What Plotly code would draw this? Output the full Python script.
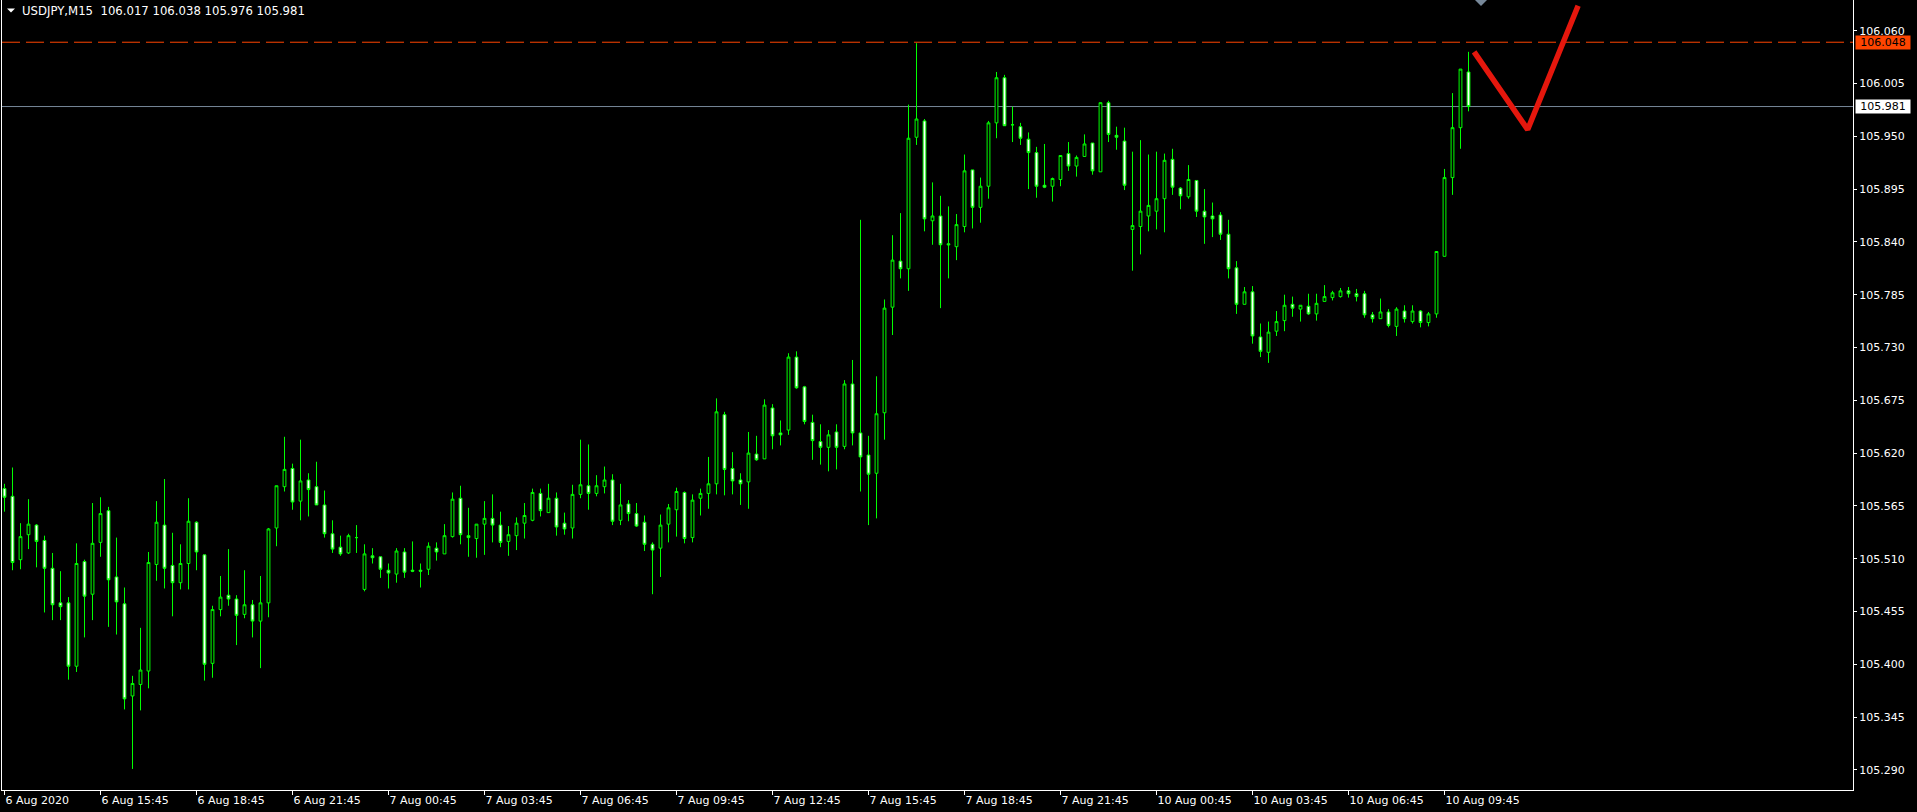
import plotly.graph_objects as go

# ---------------- data (USDJPY, M15) ----------------
symbol_title = "USDJPY,M15&nbsp; 106.017 106.038 105.976 105.981"

open_ = [
    105.583, 105.575, 105.509, 105.535, 105.545, 105.529, 105.500, 105.464, 105.464, 105.398,
    105.507, 105.473, 105.527, 105.560, 105.491, 105.463, 105.367, 105.379, 105.393, 105.504,
    105.545, 105.503, 105.485, 105.505, 105.548, 105.514, 105.401, 105.457, 105.472, 105.468,
    105.452, 105.462, 105.445, 105.464, 105.542, 105.585, 105.604, 105.570, 105.592, 105.585,
    105.566, 105.536, 105.522, 105.516, 105.532, 105.478, 105.513, 105.512, 105.498, 105.494,
    105.517, 105.498, 105.498, 105.499, 105.521, 105.515, 105.533, 105.573, 105.534, 105.531,
    105.546, 105.552, 105.545, 105.528, 105.534, 105.547, 105.550, 105.578, 105.558, 105.573,
    105.547, 105.542, 105.577, 105.586, 105.578, 105.585, 105.592, 105.550, 105.567, 105.557,
    105.548, 105.525, 105.521, 105.546, 105.561, 105.579, 105.532, 105.573, 105.578, 105.588,
    105.660, 105.604, 105.592, 105.590, 105.619, 105.614, 105.667, 105.641, 105.644, 105.720,
    105.689, 105.652, 105.632, 105.626, 105.642, 105.627, 105.692, 105.641, 105.618, 105.599,
    105.662, 105.772, 105.820, 105.812, 105.949, 105.966, 105.862, 105.867, 105.838, 105.835,
    105.856, 105.915, 105.876, 105.898, 105.964, 106.011, 105.962, 105.960, 105.947, 105.933,
    105.899, 105.898, 105.905, 105.932, 105.919, 105.929, 105.943, 105.913, 105.985, 105.951,
    105.945, 105.853, 105.856, 105.867, 105.872, 105.885, 105.926, 105.896, 105.887, 105.904,
    105.872, 105.867, 105.868, 105.848, 105.813, 105.775, 105.788, 105.741, 105.725, 105.747,
    105.758, 105.775, 105.770, 105.773, 105.765, 105.778, 105.782, 105.783, 105.789, 105.786,
    105.786, 105.764, 105.760, 105.767, 105.752, 105.768, 105.757, 105.768, 105.756, 105.765,
    105.825, 105.907, 105.959, 106.017,
]
high = [
    105.588, 105.605, 105.547, 105.572, 105.546, 105.534, 105.516, 105.497, 105.470, 105.526,
    105.509, 105.568, 105.574, 105.564, 105.532, 105.480, 105.388, 105.438, 105.517, 105.570,
    105.593, 105.537, 105.525, 105.573, 105.549, 105.514, 105.461, 105.492, 105.520, 105.472,
    105.498, 105.467, 105.492, 105.542, 105.586, 105.637, 105.609, 105.634, 105.599, 105.611,
    105.581, 105.550, 105.534, 105.536, 105.545, 105.525, 105.521, 105.512, 105.505, 105.521,
    105.521, 105.528, 105.505, 105.527, 105.527, 105.546, 105.579, 105.586, 105.563, 105.546,
    105.570, 105.577, 105.559, 105.544, 105.553, 105.568, 105.583, 105.583, 105.588, 105.579,
    105.558, 105.587, 105.634, 105.629, 105.597, 105.606, 105.598, 105.588, 105.571, 105.568,
    105.555, 105.527, 105.556, 105.567, 105.584, 105.580, 105.577, 105.583, 105.616, 105.677,
    105.663, 105.621, 105.599, 105.642, 105.638, 105.676, 105.671, 105.654, 105.724, 105.726,
    105.690, 105.660, 105.650, 105.644, 105.650, 105.696, 105.717, 105.863, 105.638, 105.700,
    105.780, 105.847, 105.870, 105.983, 106.047, 105.968, 105.902, 105.888, 105.877, 105.869,
    105.931, 105.915, 105.907, 105.966, 106.017, 106.014, 105.981, 105.964, 105.954, 105.939,
    105.942, 105.907, 105.930, 105.944, 105.930, 105.952, 105.943, 105.985, 105.987, 105.960,
    105.959, 105.934, 105.946, 105.931, 105.934, 105.932, 105.937, 105.897, 105.920, 105.904,
    105.895, 105.881, 105.871, 105.863, 105.820, 105.793, 105.794, 105.755, 105.757, 105.768,
    105.785, 105.783, 105.774, 105.786, 105.786, 105.795, 105.789, 105.792, 105.793, 105.791,
    105.789, 105.767, 105.781, 105.770, 105.772, 105.774, 105.774, 105.769, 105.767, 105.830,
    105.916, 105.995, 106.020, 106.038,
]
low = [
    105.559, 105.498, 105.499, 105.520, 105.501, 105.454, 105.446, 105.446, 105.384, 105.392,
    105.428, 105.446, 105.512, 105.439, 105.431, 105.353, 105.291, 105.352, 105.375, 105.487,
    105.479, 105.450, 105.478, 105.478, 105.498, 105.383, 105.386, 105.450, 105.461, 105.420,
    105.448, 105.428, 105.396, 105.449, 105.523, 105.580, 105.561, 105.550, 105.554, 105.566,
    105.532, 105.516, 105.513, 105.515, 105.516, 105.476, 105.505, 105.490, 105.479, 105.485,
    105.490, 105.496, 105.480, 105.493, 105.508, 105.515, 105.532, 105.525, 105.512, 105.511,
    105.514, 105.527, 105.522, 105.513, 105.519, 105.531, 105.549, 105.554, 105.558, 105.534,
    105.535, 105.531, 105.573, 105.561, 105.575, 105.578, 105.545, 105.545, 105.549, 105.543,
    105.518, 105.473, 105.491, 105.527, 105.533, 105.526, 105.527, 105.555, 105.562, 105.577,
    105.576, 105.577, 105.566, 105.562, 105.612, 105.614, 105.624, 105.628, 105.639, 105.687,
    105.650, 105.613, 105.608, 105.601, 105.603, 105.624, 105.628, 105.580, 105.545, 105.552,
    105.634, 105.743, 105.802, 105.789, 105.941, 105.851, 105.837, 105.771, 105.802, 105.821,
    105.850, 105.854, 105.860, 105.885, 105.948, 105.961, 105.944, 105.941, 105.895, 105.886,
    105.896, 105.882, 105.898, 105.914, 105.908, 105.929, 105.910, 105.913, 105.944, 105.936,
    105.894, 105.810, 105.827, 105.851, 105.853, 105.850, 105.889, 105.874, 105.885, 105.866,
    105.838, 105.845, 105.842, 105.802, 105.765, 105.775, 105.734, 105.720, 105.714, 105.742,
    105.747, 105.762, 105.757, 105.764, 105.758, 105.778, 105.779, 105.782, 105.782, 105.778,
    105.761, 105.756, 105.760, 105.751, 105.742, 105.756, 105.755, 105.751, 105.752, 105.761,
    105.825, 105.889, 105.937, 105.976,
]
close = [
    105.574, 105.506, 105.533, 105.546, 105.528, 105.500, 105.462, 105.460, 105.398, 105.505,
    105.471, 105.526, 105.557, 105.488, 105.465, 105.364, 105.380, 105.394, 105.506, 105.548,
    105.500, 105.485, 105.505, 105.549, 105.517, 105.400, 105.457, 105.470, 105.468, 105.451,
    105.462, 105.445, 105.464, 105.541, 105.586, 105.603, 105.569, 105.591, 105.582, 105.566,
    105.536, 105.520, 105.515, 105.534, 105.532, 105.515, 105.511, 105.499, 105.495, 105.518,
    105.496, 105.497, 105.497, 105.523, 105.517, 105.534, 105.572, 105.535, 105.532, 105.546,
    105.552, 105.545, 105.527, 105.535, 105.547, 105.555, 105.579, 105.560, 105.573, 105.543,
    105.541, 105.577, 105.587, 105.578, 105.586, 105.592, 105.549, 105.566, 105.557, 105.544,
    105.525, 105.519, 105.545, 105.563, 105.580, 105.531, 105.571, 105.578, 105.588, 105.663,
    105.603, 105.591, 105.588, 105.620, 105.613, 105.670, 105.638, 105.639, 105.720, 105.688,
    105.653, 105.633, 105.626, 105.639, 105.626, 105.692, 105.641, 105.616, 105.598, 105.661,
    105.771, 105.821, 105.812, 105.948, 105.968, 105.864, 105.867, 105.837, 105.837, 105.858,
    105.914, 105.876, 105.898, 105.964, 106.011, 105.961, 105.962, 105.948, 105.933, 105.898,
    105.897, 105.906, 105.930, 105.919, 105.928, 105.942, 105.914, 105.985, 105.952, 105.949,
    105.899, 105.857, 105.872, 105.878, 105.885, 105.925, 105.897, 105.888, 105.905, 105.872,
    105.866, 105.864, 105.848, 105.812, 105.775, 105.788, 105.742, 105.726, 105.746, 105.757,
    105.774, 105.771, 105.774, 105.765, 105.776, 105.783, 105.787, 105.789, 105.786, 105.783,
    105.764, 105.760, 105.767, 105.753, 105.770, 105.760, 105.768, 105.756, 105.765, 105.830,
    105.907, 105.959, 106.020, 105.981,
]
bar_index = list(range(len(close)))

time_tick_index = [0, 12, 24, 36, 48, 60, 72, 84, 96, 108, 120, 132, 144, 156, 168, 180]
time_tick_labels = [
    "6 Aug 2020", "6 Aug 15:45", "6 Aug 18:45", "6 Aug 21:45", "7 Aug 00:45",
    "7 Aug 03:45", "7 Aug 06:45", "7 Aug 09:45", "7 Aug 12:45", "7 Aug 15:45",
    "7 Aug 18:45", "7 Aug 21:45", "10 Aug 00:45", "10 Aug 03:45", "10 Aug 06:45",
    "10 Aug 09:45",
]
price_ticks = [105.290, 105.345, 105.400, 105.455, 105.510, 105.565, 105.620, 105.675,
               105.730, 105.785, 105.840, 105.895, 105.950, 106.005, 106.060]

level_price = 106.048      # dashed horizontal level
bid_price = 105.981        # current bid line

# hand-drawn red "V" stroke (bar index, price)
stroke_x = [183.7, 190.4, 196.7]
stroke_y = [106.038, 105.957, 106.086]

# ---------------- figure ----------------
W, H = 1917, 812
ML, MR, MT, MB = 2, 64, 0, 22
PW, PH = W - ML - MR, H - MT - MB
FONT = "DejaVu Sans"
GREEN = "#00FF00"

fig = go.Figure()

fig.add_trace(go.Candlestick(
    x=bar_index, open=open_, high=high, low=low, close=close,
    increasing=dict(line=dict(color=GREEN, width=1), fillcolor="#000000"),
    decreasing=dict(line=dict(color=GREEN, width=1), fillcolor="#FFFFFF"),
    whiskerwidth=0, showlegend=False, hoverinfo="skip",
))

fig.add_trace(go.Scatter(
    x=stroke_x, y=stroke_y, mode="lines",
    line=dict(color="#E5170D", width=5.5), showlegend=False, hoverinfo="skip",
))

# horizontal lines
fig.add_shape(type="line", xref="paper", yref="y", x0=0, x1=1, y0=level_price, y1=level_price,
              line=dict(color="#FF4500", width=1, dash="18px,6px"), layer="below")
fig.add_shape(type="line", xref="paper", yref="y", x0=0, x1=1, y0=bid_price, y1=bid_price,
              line=dict(color="#778899", width=1), layer="below")


def px_x(p):
    return (p - ML) / PW


def px_y(p):
    return 1 - (p - MT) / PH


# small white triangle before the title
fig.add_shape(type="path", xref="paper", yref="paper",
              path=f"M {px_x(7)},{px_y(8.5)} L {px_x(15)},{px_y(8.5)} L {px_x(11)},{px_y(12.5)} Z",
              fillcolor="#FFFFFF", line=dict(width=0))
# grey chart-shift marker at top
fig.add_shape(type="path", xref="paper", yref="paper",
              path=f"M {px_x(1475)},{px_y(0)} L {px_x(1487)},{px_y(0)} L {px_x(1481)},{px_y(6)} Z",
              fillcolor="#778899", line=dict(width=0))

fig.add_annotation(x=px_x(20), y=px_y(11), xref="paper", yref="paper", xanchor="left",
                   yanchor="middle", text=symbol_title, showarrow=False,
                   font=dict(family=FONT, size=11.7, color="#FFFFFF"))

# price labels on the right axis
fig.add_annotation(x=1, xref="paper", xshift=2, xanchor="left", y=level_price, yref="y",
                   yanchor="middle", text=f"{level_price:.3f}", showarrow=False,
                   bgcolor="#FF4500", width=54, height=13, borderpad=0, align="center",
                   font=dict(family=FONT, size=11, color="#000000"))
fig.add_annotation(x=1, xref="paper", xshift=2, xanchor="left", y=bid_price, yref="y",
                   yanchor="middle", text=f"{bid_price:.3f}", showarrow=False,
                   bgcolor="#FFFFFF", width=54, height=13, borderpad=0, align="center",
                   font=dict(family=FONT, size=11, color="#000000"))

y_top = 106.060 + 30.7 / 960
y_bot = 106.060 - (790 - 30.7) / 960

fig.update_layout(
    width=W, height=H,
    margin=dict(l=ML, r=MR, t=MT, b=MB, pad=0),
    paper_bgcolor="#000000", plot_bgcolor="#000000",
    font=dict(family=FONT, size=11, color="#FFFFFF"),
    boxgap=0.5,
    showlegend=False,
    xaxis=dict(
        range=[(ML - 4.5) / 8, (1853 - 4.5) / 8],
        rangeslider=dict(visible=False),
        showgrid=False, zeroline=False,
        showline=True, linecolor="#FFFFFF", linewidth=1, mirror=True,
        ticks="outside", ticklen=4, tickcolor="#FFFFFF", tickwidth=1,
        tickvals=time_tick_index, ticktext=time_tick_labels,
        ticklabelposition="outside right",
        tickfont=dict(family=FONT, size=11, color="#FFFFFF"),
        fixedrange=True,
    ),
    yaxis=dict(
        side="right",
        range=[y_bot, y_top],
        showgrid=False, zeroline=False,
        showline=True, linecolor="#FFFFFF", linewidth=1, mirror=True,
        ticks="outside", ticklen=3, tickcolor="#FFFFFF", tickwidth=1,
        tickvals=price_ticks, ticktext=[f"{v:.3f}" for v in price_ticks],
        tickfont=dict(family=FONT, size=11, color="#FFFFFF"),
        fixedrange=True,
    ),
)

fig.write_html("out.html", config={"displayModeBar": False},
               post_script="document.body.style.margin='0';document.body.style.background='#000';")
